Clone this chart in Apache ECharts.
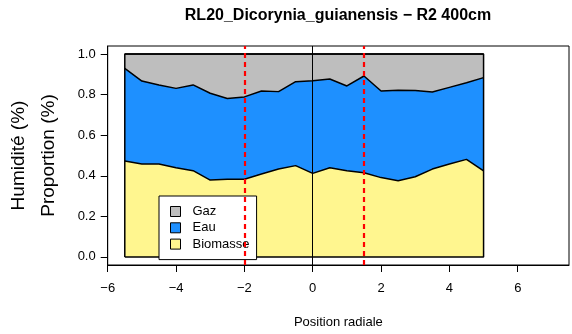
<!DOCTYPE html>
<html lang="fr">
<head>
    <meta charset="UTF-8">
    <title>RL20_Dicorynia_guianensis - R2 400cm</title>
    <script src="https://cdn.jsdelivr.net/npm/echarts@6/dist/echarts.min.js"></script>
    <style>html, body { margin: 0; padding: 0; background: #fff; }</style>
</head>
<body>
    <div id="main" style="width: 572px;height:334px;"></div>
    <script type="text/javascript">
        // positions radiales et proportions
        var positions = [-5.5, -5, -4.5, -4, -3.5, -3, -2.5, -2, -1.5, -1, -0.5, 0, 0.5, 1, 1.5, 2, 2.5, 3, 3.5, 4, 4.5, 5];
        var biomasse = [0.473, 0.458, 0.458, 0.440, 0.425, 0.379, 0.383, 0.383, 0.409, 0.433, 0.450, 0.412, 0.440, 0.425, 0.415, 0.391, 0.376, 0.395, 0.433, 0.458, 0.481, 0.424];
        var eau = [0.457, 0.409, 0.390, 0.391, 0.423, 0.428, 0.398, 0.406, 0.409, 0.382, 0.414, 0.457, 0.437, 0.418, 0.477, 0.427, 0.446, 0.426, 0.380, 0.378, 0.378, 0.460];
        var gaz = [0.070, 0.133, 0.152, 0.169, 0.152, 0.193, 0.219, 0.211, 0.182, 0.185, 0.136, 0.131, 0.123, 0.157, 0.108, 0.182, 0.178, 0.179, 0.187, 0.164, 0.141, 0.116];
        var xTicks = [-6, -4, -2, 0, 2, 4, 6];
        var yTicks = [0, 0.2, 0.4, 0.6, 0.8, 1];
        var limites = [-2, 1.5]; // lignes rouges en pointillés

        var police = 'Liberation Sans, Arial, sans-serif';
        var trait = {color: '#000', width: 1.5};

        // empilement : chaque couche est tracée jusqu'à sa limite supérieure cumulée
        function cumul(couches) {
            return positions.map(function (p, i) {
                var s = 0;
                couches.forEach(function (c) { s += c[i]; });
                return [p, s];
            });
        }
        var p0 = positions[0];
        var pN = positions[positions.length - 1];

        var lignesV = [{xAxis: 0, lineStyle: {color: '#000', width: 1, type: 'solid'}}];
        limites.forEach(function (v) {
            lignesV.push({xAxis: v, lineStyle: {color: '#FF0000', width: 2.2, type: [5, 4]}});
        });

        function couche(nom, data, couleur) {
            return {name: nom, type: 'line', data: data, symbol: 'none', lineStyle: trait,
                itemStyle: {color: couleur}, areaStyle: {color: couleur, opacity: 1, origin: 0}};
        }

        var myChart = echarts.init(document.getElementById('main'));
        var option = {
            animation: false,
            textStyle: {fontFamily: police},
            grid: {left: 107.7, right: 3, top: 46, bottom: 69, show: true, borderColor: '#000', borderWidth: 1},
            xAxis: {
                type: 'value', min: -6, max: 7.5,
                name: 'Position radiale', nameLocation: 'middle', nameGap: 51,
                nameTextStyle: {fontSize: 13, color: '#000', fontFamily: police},
                axisLine: {show: true, onZero: false, lineStyle: {color: '#000', width: 1}},
                axisTick: {show: true, customValues: xTicks, length: 7, lineStyle: {color: '#000'}},
                axisLabel: {customValues: xTicks, margin: 17, fontSize: 13, color: '#000', fontFamily: police,
                    formatter: function (v) { return String(v).replace('-', '\u2212'); }},
                splitLine: {show: false}
            },
            yAxis: {
                type: 'value', min: -0.04, max: 1.04,
                axisLine: {show: true, onZero: false, lineStyle: {color: '#000', width: 1}},
                axisTick: {show: true, customValues: yTicks, length: 7, lineStyle: {color: '#000'}},
                axisLabel: {customValues: yTicks, margin: 12, fontSize: 13, color: '#000', fontFamily: police,
                    formatter: function (v) { return v.toFixed(1); }},
                splitLine: {show: false}
            },
            legend: {
                orient: 'vertical', left: 159, top: 196,
                data: [
                    {name: 'Gaz', itemStyle: {color: '#BEBEBE'}},
                    {name: 'Eau', itemStyle: {color: '#1E90FF'}},
                    {name: 'Biomasse', itemStyle: {color: '#FFF68F'}}
                ],
                icon: 'rect', itemWidth: 10, itemHeight: 10, itemGap: 3.3,
                itemStyle: {borderColor: '#000', borderWidth: 1},
                textStyle: {fontFamily: police, fontSize: 13, color: '#000', padding: [0, 0, 0, 7]},
                backgroundColor: '#fff', borderColor: '#000', borderWidth: 1, borderRadius: 0,
                padding: [9, 7, 9, 11], selectedMode: false
            },
            graphic: [
                {type: 'text', x: 338, y: 16, style: {text: 'RL20_Dicorynia_guianensis \u2212 R2 400cm',
                    font: 'bold 16px ' + police, fill: '#000', textAlign: 'center', textVerticalAlign: 'middle'}},
                {type: 'text', x: 49, y: 155.5, rotation: Math.PI / 2, style: {text: 'Proportion (%)',
                    font: '19px ' + police, fill: '#000', textAlign: 'center', textVerticalAlign: 'middle'}},
                {type: 'text', x: 19, y: 155.5, rotation: Math.PI / 2, style: {text: 'Humidité (%)',
                    font: '19px ' + police, fill: '#000', textAlign: 'center', textVerticalAlign: 'middle'}}
            ],
            series: [
                couche('Gaz', cumul([biomasse, eau, gaz]), '#BEBEBE'),
                couche('Eau', cumul([biomasse, eau]), '#1E90FF'),
                couche('Biomasse', cumul([biomasse]), '#FFF68F'),
                {name: 'contour', type: 'line', symbol: 'none', lineStyle: trait, silent: true,
                    data: [[p0, 0], [p0, 1], [pN, 1], [pN, 0], [p0, 0]],
                    markLine: {silent: true, symbol: 'none', label: {show: false}, data: lignesV}}
            ]
        };
        myChart.setOption(option);
    </script>
</body>
</html>
